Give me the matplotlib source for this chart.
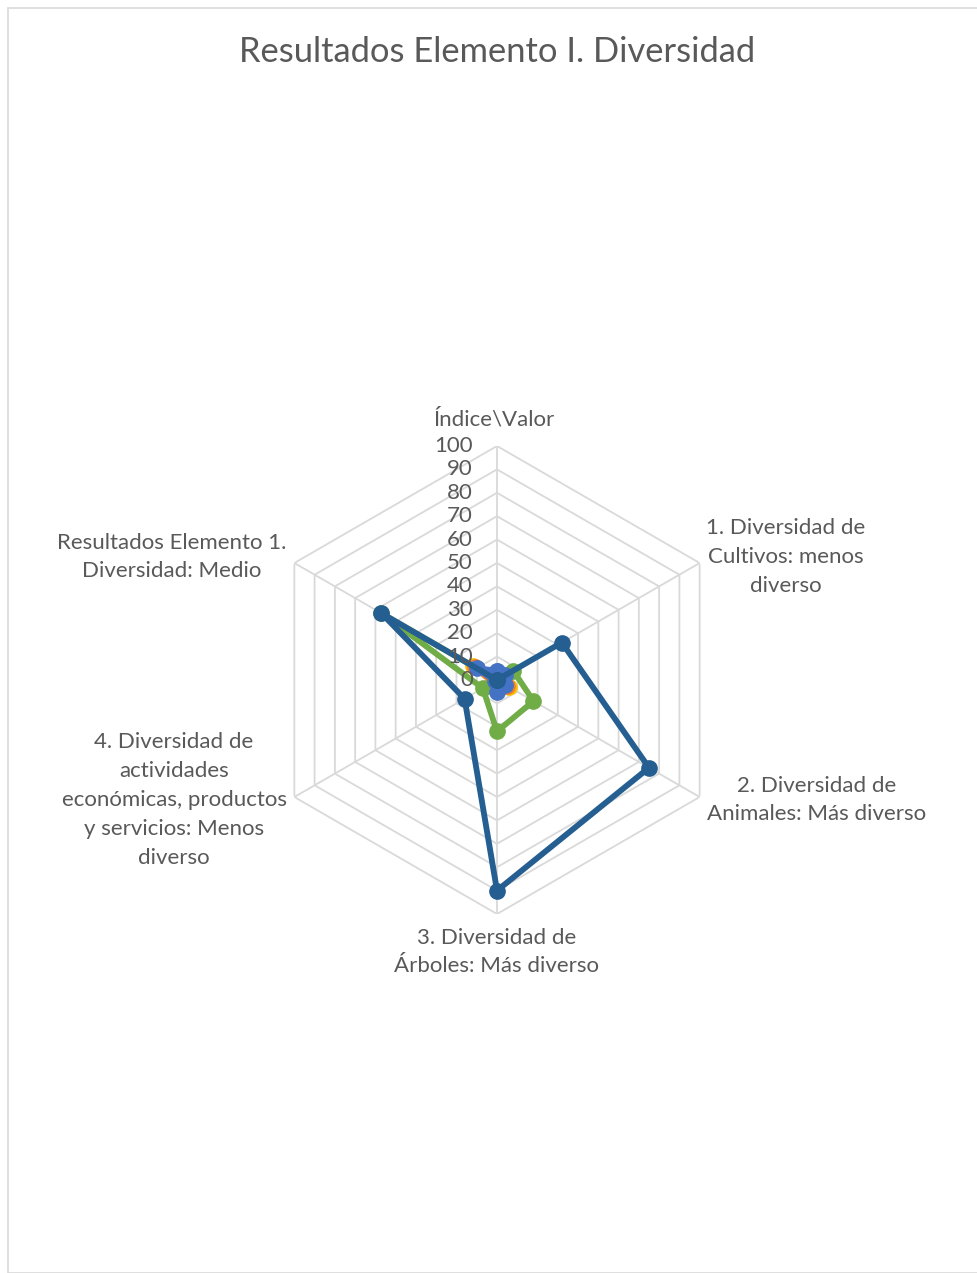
import numpy as np
import matplotlib
matplotlib.use("Agg")
import matplotlib.pyplot as plt
from matplotlib.patches import Rectangle

# -----------------------
# Data
# -----------------------
categories = [
    "Índice\\Valor",
    "1. Diversidad de\nCultivos: menos\ndiverso",
    "2. Diversidad de\nAnimales: Más diverso",
    "3. Diversidad de\nÁrboles: Más diverso",
    "4. Diversidad de\nactividades\neconómicas, productos\ny servicios: Menos\ndiverso",
    "Resultados Elemento 1.\nDiversidad: Medio",
]
serie_amarilla = [2, 3, 6, 4, 2, 12]
serie_naranja = [2, 3, 5, 4, 2, 11]
serie_azul = [4, 4, 4, 5, 1, 10]
serie_verde = [0, 8, 18, 22, 7, 57]
serie_azul_osc = [0, 32, 75, 90, 16, 57]
niveles = [0, 10, 20, 30, 40, 50, 60, 70, 80, 90, 100]

W, H = 977, 1273
GRAY_TXT = "#595959"
GRID = "#D9D9D9"
plt.rcParams["font.family"] = ["Lato", "DejaVu Sans"]

fig = plt.figure(figsize=(W / 100, H / 100), dpi=100)

# chart border
fig.patches.append(Rectangle((8 / W, 0), 1.2, 1 - 8 / H, transform=fig.transFigure,
                             fill=False, edgecolor="#D9D9D9", linewidth=1.2))

fig.text(497 / W, 1 - 52 / H, "Resultados Elemento I. Diversidad", ha="center", va="center",
         fontsize=24.8, color=GRAY_TXT)

# -----------------------
# Radar axes
# -----------------------
cx, cy, R = 497, 680, 234
ax = fig.add_axes([(cx - R) / W, 1 - (cy + R) / H, 2 * R / W, 2 * R / H], projection="polar")
ax.set_theta_zero_location("N")
ax.set_theta_direction(-1)
ax.set_ylim(0, 100)
ax.grid(False)
ax.spines["polar"].set_visible(False)
ax.set_xticks([])
ax.set_yticks([])
ax.patch.set_alpha(0)

n = len(categories)
ang = np.linspace(0, 2 * np.pi, n, endpoint=False)
ang_c = np.append(ang, ang[0])

for lv in niveles[1:]:
    ax.plot(ang_c, [lv] * (n + 1), color=GRID, linewidth=1.3, zorder=1)
for a in ang:
    ax.plot([a, a], [0, 100], color=GRID, linewidth=1.3, zorder=1)

series = [
    (serie_amarilla, "#FFC000"),
    (serie_naranja, "#ED7D31"),
    (serie_verde, "#70AD47"),
    (serie_azul, "#4472C4"),
    (serie_azul_osc, "#255E91"),
]
for vals, col in series:
    v = np.append(vals, vals[0])
    ax.plot(ang_c, v, color=col, linewidth=4.2, marker="o", markersize=11,
            solid_joinstyle="round", zorder=3)

# radial value labels
for lv in niveles:
    y = cy - lv * R / 100
    fig.text(473 / W, 1 - y / H, str(lv), ha="right", va="center",
             fontsize=16, color=GRAY_TXT, zorder=5)

# category labels
label_pos = [(494, 419), (786, 557), (817, 800), (497, 952), (174, 800), (172, 557)]
for txt, (px, py) in zip(categories, label_pos):
    fig.text(px / W, 1 - py / H, txt, ha="center", va="center", multialignment="center",
             fontsize=16, color=GRAY_TXT, linespacing=1.55)

fig.savefig("out.png", dpi=100)
